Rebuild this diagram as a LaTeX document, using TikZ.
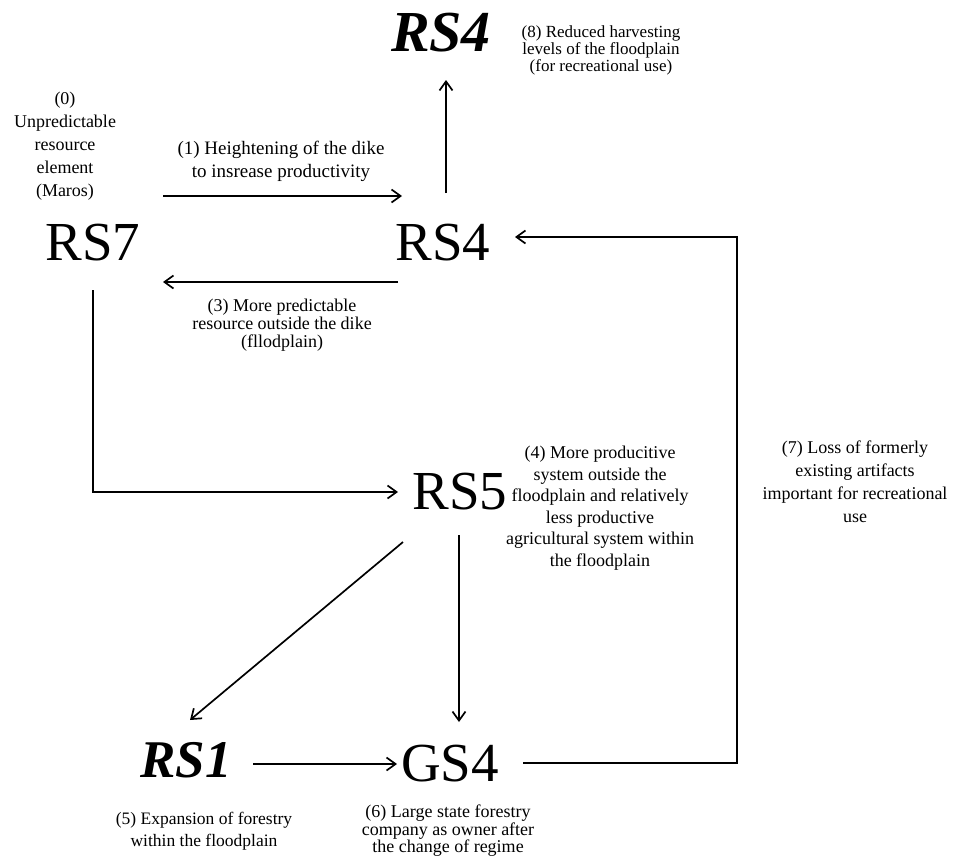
\documentclass[tikz,border=0pt]{standalone}
\usepackage{fontspec}
\setmainfont{Liberation Serif}
\usetikzlibrary{arrows.meta}
\begin{document}
\begin{tikzpicture}[x=1pt,y=-1pt,
  big/.style={font=\fontsize{55}{60}\selectfont, inner sep=0pt},
  bigbi/.style={font=\fontsize{#1}{60}\selectfont\bfseries\itshape, inner sep=0pt},
  lbl/.style={font=\fontsize{18}{#1}\selectfont, align=center, inner sep=0pt},
  arr/.style={line width=1.7pt, -{Straight Barb[length=9pt,width=13pt,line width=1.7pt]}},
  ln/.style={line width=1.7pt}]
\useasboundingbox (0,0) rectangle (956,857);
\fill[white] (0,0) rectangle (956,857);
% main nodes
\node[big] (rs7) at (93,243) {RS7};
\node[big] (rs4) at (443,243) {RS4};
\node[bigbi=58] (rs4t) at (441,33) {RS4};
\node[big] (rs5) at (460,492) {RS5};
\node[bigbi=53] (rs1) at (186,760) {RS1};
\node[big] (gs4) at (450,764) {GS4};
% labels
\node[lbl=23] (l0) at (65,146) {(0)\\Unpredictable\\resource\\element\\(Maros)};
\node[font=\fontsize{19}{23}\selectfont, align=center, inner sep=0pt] (l1) at (281,161) {(1) Heightening of the dike\\to insrease productivity};
\node[lbl=18] (l3) at (282,325) {(3) More predictable\\resource outside the dike\\(fllodplain)};
\node[font=\fontsize{17}{17}\selectfont, align=center, inner sep=0pt] (l8) at (601,50) {(8) Reduced harvesting\\levels of the floodplain\\(for recreational use)};
\node[lbl=21.5] (l4) at (600,508) {(4) More producitive\\system outside the\\floodplain and relatively\\less productive\\agricultural system within\\the floodplain};
\node[lbl=23] (l7) at (855,482) {(7) Loss of formerly\\existing artifacts\\important for recreational\\use};
\node[font=\fontsize{17.5}{22}\selectfont, align=center, inner sep=0pt] (l5) at (204,831) {(5) Expansion of forestry\\within the floodplain};
\node[lbl=17.5] (l6) at (448,831) {(6) Large state forestry\\company as owner after\\the change of regime};
% connector end points
\coordinate (a1s) at (163,196);
\coordinate (a1e) at (402,196);
\coordinate (a3s) at (398,282);
\coordinate (a3e) at (163,282);
\coordinate (upS) at (446,193);
\coordinate (upE) at (446,80);
\coordinate (c7s) at (93,290);
\coordinate (c7c) at (93,492);
\coordinate (c7e) at (398,492);
\coordinate (dgs) at (403,542);
\coordinate (dge) at (190,720);
\coordinate (vs) at (459,535);
\coordinate (ve) at (459,722);
\coordinate (hs) at (253,764);
\coordinate (he) at (397,764);
\coordinate (gs) at (523,763);
\coordinate (gc1) at (737,763);
\coordinate (gc2) at (737,237);
\coordinate (ge) at (515,237);
% connectors
\draw[arr] (a1s) -- (a1e);
\draw[arr] (a3s) -- (a3e);
\draw[arr] (upS) -- (upE);
\draw[arr] (c7s) -- (c7c) -- (c7e);
\draw[arr] (dgs) -- (dge);
\draw[arr] (vs) -- (ve);
\draw[arr] (hs) -- (he);
\draw[arr] (gs) -- (gc1) -- (gc2) -- (ge);
\end{tikzpicture}
\end{document}
